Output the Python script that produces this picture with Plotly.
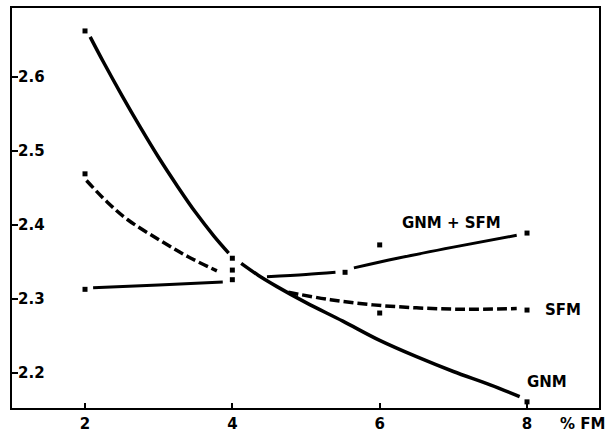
import plotly.graph_objects as go

# Smoothed curves; None marks gaps in the drawn lines
gnm_line_x = [2.07, 2.25, 2.5, 2.75, 3.0, 3.25, 3.5, 3.75, 3.95, None,
              4.12, 4.35, 4.6, 5.0, 5.5, 6.0, 6.5, 7.0, 7.5, 7.9]
gnm_line_y = [2.654, 2.620, 2.575, 2.532, 2.491, 2.453, 2.417, 2.385, 2.362, None,
              2.348, 2.332, 2.317, 2.295, 2.270, 2.244, 2.222, 2.202, 2.184, 2.168]

sfm_line_x = [2.02, 2.3, 2.58, 3.02, 3.4, 3.79, None, 4.76, 5.33, 5.91, 6.5, 7.13, 7.86]
sfm_line_y = [2.460, 2.431, 2.407, 2.379, 2.357, 2.338, None, 2.309, 2.299, 2.292, 2.288, 2.286, 2.287]

gs_line_x = [2.11, 3.0, 3.87, None, 4.47, 5.0, 5.40, None, 5.65, 6.24, 7.0, 7.86]
gs_line_y = [2.315, 2.319, 2.323, None, 2.330, 2.333, 2.336, None, 2.342, 2.355, 2.370, 2.386]

# Measured points
gnm_x = [2, 4, 8]
gnm_y = [2.662, 2.355, 2.161]
sfm_x = [2, 4, 6, 8]
sfm_y = [2.469, 2.339, 2.281, 2.285]
gs_x = [2, 4, 5.53, 6, 8]
gs_y = [2.313, 2.326, 2.336, 2.373, 2.389]

x_ticks = [2, 4, 6, 8]
x_labels = ["2", "4", "6", "8"]
y_ticks = [2.2, 2.3, 2.4, 2.5, 2.6]
y_labels = ["2.2", "2.3", "2.4", "2.5", "2.6"]

FONT = "DejaVu Sans, sans-serif"
TXT = dict(family=FONT, size=15, color="black", weight="bold")

fig = go.Figure()
fig.add_trace(go.Scatter(x=gnm_line_x, y=gnm_line_y, mode="lines",
                         line=dict(color="black", width=3.5, shape="spline", smoothing=1),
                         connectgaps=False, hoverinfo="skip"))
fig.add_trace(go.Scatter(x=sfm_line_x, y=sfm_line_y, mode="lines",
                         line=dict(color="black", width=3.5, shape="spline", smoothing=1,
                                   dash="10px,4px"),
                         connectgaps=False, hoverinfo="skip"))
fig.add_trace(go.Scatter(x=gs_line_x, y=gs_line_y, mode="lines",
                         line=dict(color="black", width=3, shape="spline", smoothing=1),
                         connectgaps=False, hoverinfo="skip"))
for mx, my in [(gnm_x, gnm_y), (sfm_x, sfm_y), (gs_x, gs_y)]:
    fig.add_trace(go.Scatter(x=mx, y=my, mode="markers",
                             marker=dict(symbol="square", size=5, color="black")))

labels = [("GNM + SFM", 6.98, 2.403), ("SFM", 8.49, 2.285), ("GNM", 8.27, 2.188)]
for txt, lx, ly in labels:
    fig.add_annotation(x=lx, y=ly, text=txt, showarrow=False, font=TXT)

fig.add_annotation(x=8.75, y=-0.04, xref="x", yref="paper", text="% FM", showarrow=False,
                   xanchor="center", yanchor="middle", font=TXT)

fig.update_layout(
    width=605, height=434,
    margin=dict(l=12, r=6, t=8, b=26, autoexpand=False),
    paper_bgcolor="white", plot_bgcolor="white",
    showlegend=False,
    font=TXT,
    xaxis=dict(range=[1.009, 8.977], tickvals=x_ticks, ticktext=x_labels,
               ticks="inside", ticklen=5, tickwidth=1.5, tickcolor="black",
               ticklabelstandoff=1, tickfont=TXT, automargin=False,
               showgrid=False, zeroline=False, showline=True, linecolor="black",
               linewidth=2, mirror=True),
    yaxis=dict(range=[2.1527, 2.693], tickvals=y_ticks, ticktext=y_labels,
               ticks="inside", ticklen=6, tickwidth=1.5, tickcolor="black",
               ticklabelposition="inside", tickfont=TXT, automargin=False,
               showgrid=False, zeroline=False, showline=True, linecolor="black",
               linewidth=2, mirror=True),
)

fig.write_html("out.html", config={"displayModeBar": False},
               post_script="document.body.style.margin='0';document.body.style.overflow='hidden';")
